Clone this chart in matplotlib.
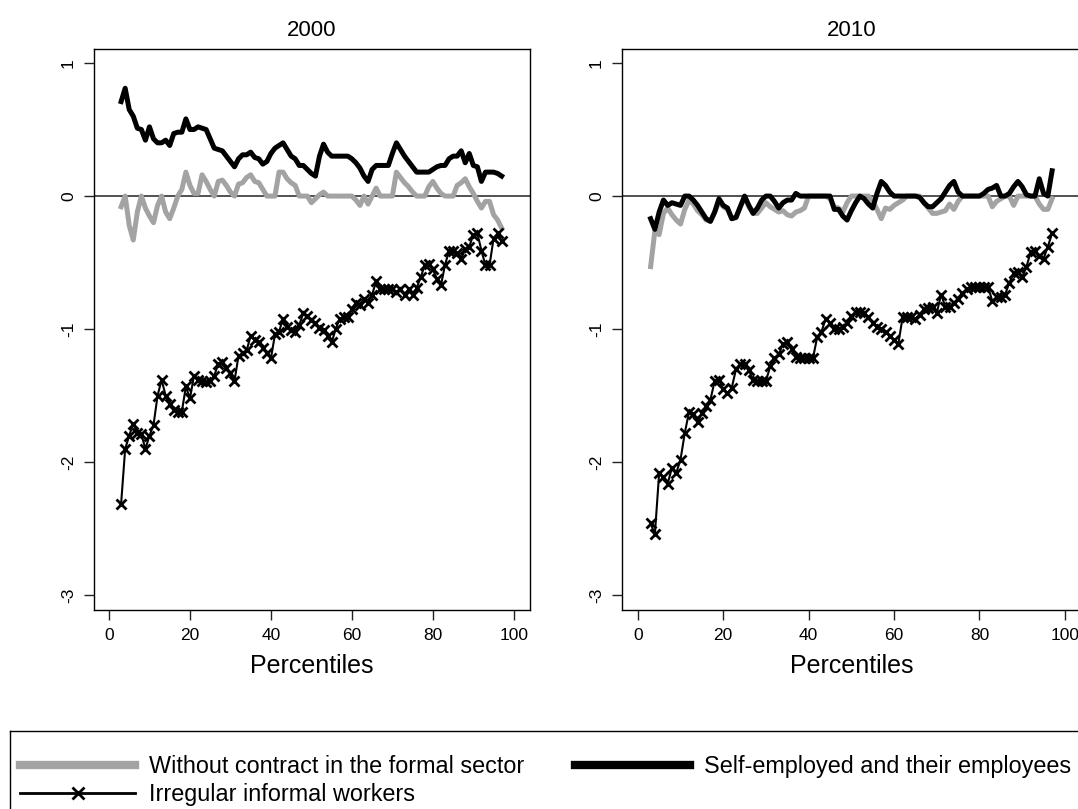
import numpy as np
import matplotlib
matplotlib.use("Agg")
import matplotlib.pyplot as plt
from matplotlib.lines import Line2D

plt.rcParams['font.family'] = ['Liberation Sans', 'DejaVu Sans']

# Percentile grid (3rd to 97th)
percentiles = np.arange(3, 98)

# ---- 2000 ----
no_contract_2000 = [
    -0.08, 0.00, -0.22, -0.33, -0.12, 0.00, -0.09, -0.15, -0.20, -0.07,
    0.00, -0.12, -0.17, -0.09, 0.00, 0.05, 0.18, 0.08, 0.02, 0.02,
    0.16, 0.11, 0.05, 0.00, 0.11, 0.12, 0.08, 0.03, 0.00, 0.09,
    0.10, 0.14, 0.16, 0.11, 0.10, 0.05, 0.00, 0.00, 0.00, 0.18,
    0.18, 0.13, 0.10, 0.08, 0.00, 0.00, 0.00, -0.05, -0.02, 0.01,
    0.03, 0.00, 0.00, 0.00, 0.00, 0.00, 0.00, 0.00, -0.03, -0.07,
    0.00, -0.06, 0.00, 0.06, 0.00, 0.00, 0.00, 0.00, 0.18, 0.14,
    0.10, 0.07, 0.03, 0.00, 0.00, 0.00, 0.07, 0.11, 0.06, 0.02,
    0.00, 0.00, 0.00, 0.08, 0.10, 0.13, 0.07, 0.02, -0.04, -0.09,
    -0.04, -0.04, -0.14, -0.18, -0.24,
]
self_employed_2000 = [
    0.71, 0.81, 0.65, 0.60, 0.51, 0.50, 0.42, 0.52, 0.43, 0.40,
    0.40, 0.42, 0.38, 0.47, 0.48, 0.48, 0.58, 0.50, 0.50, 0.52,
    0.51, 0.50, 0.43, 0.36, 0.35, 0.34, 0.30, 0.26, 0.22, 0.28,
    0.31, 0.31, 0.33, 0.29, 0.28, 0.24, 0.26, 0.32, 0.36, 0.38,
    0.40, 0.35, 0.30, 0.28, 0.23, 0.23, 0.20, 0.17, 0.15, 0.30,
    0.39, 0.33, 0.30, 0.30, 0.30, 0.30, 0.30, 0.28, 0.25, 0.21,
    0.15, 0.11, 0.20, 0.23, 0.23, 0.23, 0.23, 0.32, 0.40, 0.35,
    0.30, 0.26, 0.22, 0.18, 0.18, 0.18, 0.18, 0.20, 0.22, 0.23,
    0.23, 0.28, 0.30, 0.30, 0.34, 0.25, 0.32, 0.23, 0.22, 0.11,
    0.18, 0.18, 0.18, 0.17, 0.15,
]
irregular_2000 = [
    -2.31, -1.90, -1.80, -1.71, -1.78, -1.79, -1.90, -1.80, -1.72, -1.50,
    -1.38, -1.50, -1.56, -1.61, -1.62, -1.62, -1.43, -1.52, -1.35, -1.38,
    -1.39, -1.40, -1.39, -1.35, -1.26, -1.25, -1.29, -1.33, -1.39, -1.20,
    -1.18, -1.16, -1.05, -1.08, -1.10, -1.14, -1.18, -1.22, -1.04, -1.02,
    -0.92, -0.98, -1.01, -1.02, -0.97, -0.88, -0.90, -0.93, -0.95, -0.99,
    -1.01, -1.05, -1.10, -1.00, -0.92, -0.91, -0.91, -0.85, -0.80, -0.82,
    -0.77, -0.80, -0.74, -0.64, -0.70, -0.70, -0.70, -0.70, -0.72, -0.70,
    -0.74, -0.70, -0.74, -0.69, -0.61, -0.52, -0.51, -0.55, -0.62, -0.67,
    -0.52, -0.41, -0.41, -0.43, -0.47, -0.40, -0.38, -0.29, -0.28, -0.41,
    -0.52, -0.52, -0.32, -0.28, -0.34,
]

# ---- 2010 ----
no_contract_2010 = [
    -0.53, -0.26, -0.29, -0.13, -0.09, -0.14, -0.18, -0.21, -0.10, -0.03,
    -0.06, -0.11, -0.14, -0.18, -0.19, -0.12, -0.04, -0.08, -0.10, -0.17,
    -0.16, -0.08, -0.01, -0.08, -0.13, -0.13, -0.09, -0.05, -0.08, -0.10,
    -0.12, -0.11, -0.14, -0.15, -0.12, -0.11, -0.09, 0.00, 0.00, 0.00,
    0.00, 0.00, -0.02, -0.08, -0.09, -0.12, -0.05, 0.00, 0.00, 0.00,
    0.00, 0.00, -0.04, -0.10, -0.17, -0.09, -0.10, -0.07, -0.05, -0.03,
    0.00, 0.00, 0.00, 0.00, -0.05, -0.09, -0.13, -0.13, -0.12, -0.11,
    -0.06, -0.10, -0.04, 0.00, 0.00, 0.00, 0.00, 0.00, 0.00, 0.00,
    -0.08, -0.04, -0.02, 0.00, 0.00, -0.07, 0.00, 0.00, 0.00, 0.00,
    0.00, -0.06, -0.10, -0.10, -0.02,
]
self_employed_2010 = [
    -0.17, -0.25, -0.12, -0.03, -0.07, -0.05, -0.06, -0.07, 0.00, 0.00,
    -0.03, -0.07, -0.12, -0.17, -0.19, -0.12, -0.02, -0.07, -0.09, -0.17,
    -0.16, -0.08, 0.00, -0.07, -0.13, -0.09, -0.03, 0.00, 0.00, -0.04,
    -0.09, -0.05, -0.03, -0.03, 0.02, 0.00, 0.00, 0.00, 0.00, 0.00,
    0.00, 0.00, 0.00, -0.10, -0.10, -0.15, -0.18, -0.11, -0.05, 0.00,
    -0.02, -0.06, -0.09, 0.02, 0.11, 0.08, 0.03, 0.00, 0.00, 0.00,
    0.00, 0.00, 0.00, -0.01, -0.05, -0.08, -0.08, -0.05, -0.02, 0.03,
    0.08, 0.11, 0.03, 0.00, 0.00, 0.00, 0.00, 0.00, 0.02, 0.05,
    0.06, 0.08, 0.00, 0.00, 0.02, 0.07, 0.11, 0.07, 0.01, 0.00,
    0.00, 0.13, 0.02, 0.00, 0.19,
]
irregular_2010 = [
    -2.46, -2.54, -2.08, -2.11, -2.16, -2.04, -2.08, -1.98, -1.78, -1.62,
    -1.64, -1.70, -1.63, -1.58, -1.53, -1.39, -1.38, -1.45, -1.48, -1.44,
    -1.30, -1.26, -1.26, -1.31, -1.38, -1.39, -1.39, -1.39, -1.28, -1.22,
    -1.19, -1.11, -1.10, -1.15, -1.21, -1.22, -1.22, -1.22, -1.22, -1.06,
    -1.02, -0.92, -0.95, -1.00, -1.00, -0.98, -0.95, -0.90, -0.87, -0.87,
    -0.88, -0.91, -0.95, -0.98, -1.00, -1.02, -1.05, -1.08, -1.11, -0.91,
    -0.91, -0.91, -0.92, -0.89, -0.85, -0.84, -0.83, -0.88, -0.74, -0.83,
    -0.83, -0.80, -0.77, -0.73, -0.70, -0.68, -0.68, -0.68, -0.68, -0.68,
    -0.79, -0.76, -0.76, -0.74, -0.65, -0.58, -0.57, -0.61, -0.53, -0.42,
    -0.41, -0.45, -0.47, -0.38, -0.28,
]

years = ["2000", "2010"]
no_contract = [no_contract_2000, no_contract_2010]
self_employed = [self_employed_2000, self_employed_2010]
irregular = [irregular_2000, irregular_2010]

x_ticks = [0, 20, 40, 60, 80, 100]
y_ticks = [1, 0, -1, -2, -3]
x_label = "Percentiles"
series_labels = ["Without contract in the formal sector",
                 "Self-employed and their employees",
                 "Irregular informal workers"]

GREY = "#a3a3a3"
W, H = 1078, 809
fig = plt.figure(figsize=(W / 100, H / 100), dpi=100)


def px_axes(left, top, right, bottom):
    return fig.add_axes([left / W, 1 - bottom / H, (right - left) / W, (bottom - top) / H])


panels = [px_axes(94, 49, 530, 610), px_axes(622, 49, 1082, 610)]

for ax, year, nc, se, ir in zip(panels, years, no_contract, self_employed, irregular):
    ax.axhline(0, color="#333333", lw=1.2, zorder=1)
    ax.plot(percentiles, nc, color=GREY, lw=3.6, zorder=2)
    ax.plot(percentiles, se, color="black", lw=3.6, zorder=3)
    ax.plot(percentiles, ir, color="black", lw=1.5, marker="x",
            ms=6.5, mew=2.0, zorder=4)
    ax.set_xlim(-3.7, 104)
    ax.set_ylim(-3.11, 1.105)
    ax.set_xticks(x_ticks)
    ax.set_yticks(y_ticks)
    ax.set_yticklabels([str(v) for v in y_ticks], rotation=90, va="center")
    ax.tick_params(direction="out", length=7, width=1.0, labelsize=12.5,
                   color="#222222")
    ax.tick_params(axis="x", pad=6)
    ax.tick_params(axis="y", pad=6)
    for sp in ax.spines.values():
        sp.set_linewidth(1.0)
        sp.set_color("black")
    ax.set_xlabel(x_label, fontsize=18, labelpad=8)
    ax.set_title(year, fontsize=16, pad=9)

# Legend box along the bottom of the figure
lax = px_axes(10, 731, 1095, 830)
lax.set_xticks([])
lax.set_yticks([])
lax.patch.set_alpha(0)
for sp in lax.spines.values():
    sp.set_linewidth(1.0)
    sp.set_color("black")

handles = [
    Line2D([], [], color=GREY, lw=6),
    Line2D([], [], color="black", lw=2, marker="x", ms=8, mew=2),
    Line2D([], [], color="black", lw=6),
]
labels = [series_labels[0], series_labels[2], series_labels[1]]
fig.legend(handles, labels, ncol=2, loc="upper left",
           bbox_to_anchor=(20 / W, 1 - 755 / H), bbox_transform=fig.transFigure,
           frameon=False, fontsize=16.8, handlelength=4.93, handletextpad=0.6,
           columnspacing=2.19, labelspacing=0.22, borderpad=0, borderaxespad=0,
           numpoints=1)

fig.savefig("out.png", dpi=100)
